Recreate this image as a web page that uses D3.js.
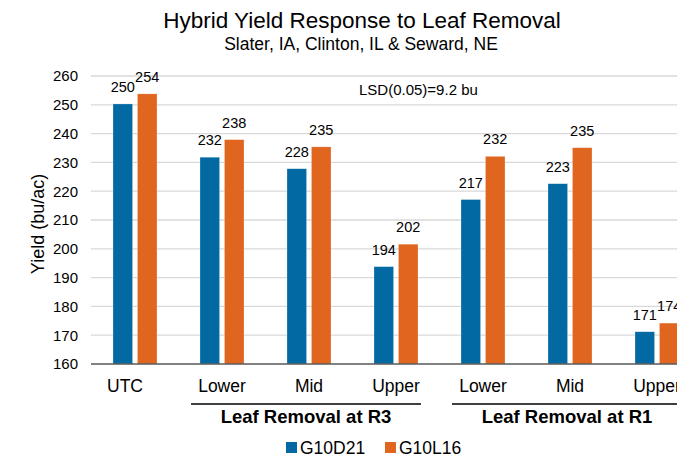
<!DOCTYPE html>
<html>
<head>
<meta charset="utf-8">
<script src="https://cdn.jsdelivr.net/npm/d3@7"></script>
<style>
  body { margin: 0; background: #fff; }
  svg { display: block; font-family: Arial, "Liberation Sans", sans-serif; }
</style>
</head>
<body>
<script>
let categories = ['UTC', 'Lower', 'Mid', 'Upper', 'Lower', 'Mid', 'Upper']
let seriesNames = ['G10D21', 'G10L16']
let g10d21 = [250.3, 231.8, 227.8, 193.8, 217.1, 222.6, 171.2]
let g10l16 = [253.8, 237.9, 235.4, 201.6, 232.1, 235.1, 174.2]
let yTicks = [160, 170, 180, 190, 200, 210, 220, 230, 240, 250, 260]
let groups = [
  { label: 'Leaf Removal at R3', from: 1, to: 3 },
  { label: 'Leaf Removal at R1', from: 4, to: 6 }
]
let colors = ['#0369a3', '#e0651f']

let width = 677
let height = 459

let svg = d3.select('body').append('svg')
  .attr('width', width)
  .attr('height', height)

let x0 = d3.scaleBand()
  .domain(d3.range(categories.length))
  .range([91.5, 700.5])

let x1 = d3.scaleBand()
  .domain(seriesNames)
  .range([21.5, 65.5])
  .paddingInner(0.2)

let y = d3.scaleLinear()
  .domain([160, 260])
  .range([364, 76])

// gridlines + tick labels
svg.append('g')
  .selectAll('line')
  .data(yTicks.slice(1))
  .enter()
  .append('line')
  .attr('x1', 91)
  .attr('x2', width)
  .attr('y1', d => y(d))
  .attr('y2', d => y(d))
  .attr('stroke', '#d9d9d9')
  .attr('stroke-width', 1.3)

svg.append('g')
  .selectAll('text')
  .data(yTicks)
  .enter()
  .append('text')
  .attr('x', 78)
  .attr('y', d => y(d))
  .attr('dy', '0.36em')
  .attr('text-anchor', 'end')
  .attr('font-size', '15px')
  .attr('fill', '#000')
  .text(d => d)

// bars
let data = categories.map((c, i) => ({ i: i, vals: [g10d21[i], g10l16[i]] }))

let cat = svg.append('g')
  .selectAll('g')
  .data(data)
  .enter()
  .append('g')
  .attr('transform', d => `translate(${x0(d.i)},0)`)

cat.selectAll('rect')
  .data(d => d.vals.map((v, k) => ({ name: seriesNames[k], v: v, k: k })))
  .enter()
  .append('rect')
  .attr('x', d => x1(d.name))
  .attr('width', x1.bandwidth())
  .attr('y', d => y(d.v))
  .attr('height', d => y(160) - y(d.v))
  .attr('fill', d => colors[d.k])
  .attr('stroke', '#fff')
  .attr('stroke-opacity', 0.4)
  .attr('stroke-width', 0.6)

cat.selectAll('text')
  .data(d => d.vals.map((v, k) => ({ name: seriesNames[k], v: v })))
  .enter()
  .append('text')
  .attr('x', d => x1(d.name) + x1.bandwidth() / 2)
  .attr('y', d => y(d.v) - 12)
  .attr('text-anchor', 'middle')
  .attr('font-size', '14.5px')
  .attr('fill', '#000')
  .text(d => Math.round(d.v))

// axis line
svg.append('line')
  .attr('x1', 91)
  .attr('x2', width)
  .attr('y1', y(160))
  .attr('y2', y(160))
  .attr('stroke', '#595959')
  .attr('stroke-width', 1.5)

// category labels
svg.append('g')
  .selectAll('text')
  .data(categories)
  .enter()
  .append('text')
  .attr('x', (d, i) => x0(i) + x0.bandwidth() / 2 - (i === 0 ? 10 : 0))
  .attr('y', 392)
  .attr('text-anchor', 'middle')
  .attr('font-size', '17.5px')
  .attr('fill', '#000')
  .text(d => d)

// group brackets
let grp = svg.append('g')
  .selectAll('g')
  .data(groups)
  .enter()
  .append('g')

let groupMid = d => (x0(d.from) + x0(d.to) + x0.bandwidth()) / 2 - 3

grp.append('line')
  .attr('x1', d => groupMid(d) - 115)
  .attr('x2', d => groupMid(d) + 115)
  .attr('y1', 404)
  .attr('y2', 404)
  .attr('stroke', '#000')
  .attr('stroke-width', 1.3)

grp.append('text')
  .attr('x', d => groupMid(d))
  .attr('y', 423)
  .attr('text-anchor', 'middle')
  .attr('font-size', '18.5px')
  .attr('font-weight', 'bold')
  .attr('fill', '#000')
  .text(d => d.label)

// y title
svg.append('text')
  .attr('transform', 'translate(44,224) rotate(-90)')
  .attr('text-anchor', 'middle')
  .attr('font-size', '18px')
  .attr('fill', '#000')
  .text('Yield (bu/ac)')

// titles
svg.append('text')
  .attr('x', 362)
  .attr('y', 28)
  .attr('text-anchor', 'middle')
  .attr('font-size', '22.5px')
  .attr('fill', '#000')
  .text('Hybrid Yield Response to Leaf Removal')

svg.append('text')
  .attr('x', 361)
  .attr('y', 50)
  .attr('text-anchor', 'middle')
  .attr('font-size', '17.5px')
  .attr('fill', '#000')
  .text('Slater, IA, Clinton, IL & Seward, NE')

svg.append('text')
  .attr('x', 359)
  .attr('y', 95)
  .attr('font-size', '15px')
  .attr('fill', '#000')
  .text('LSD(0.05)=9.2 bu')

// legend
let legendX = [286, 385]
let legend = svg.append('g')
  .selectAll('g')
  .data(seriesNames)
  .enter()
  .append('g')
  .attr('transform', (d, i) => `translate(${legendX[i]},442)`)

legend.append('rect')
  .attr('width', 11)
  .attr('height', 11)
  .attr('fill', (d, i) => colors[i])

legend.append('text')
  .attr('x', 14)
  .attr('y', 12)
  .attr('font-size', '17.5px')
  .attr('fill', '#000')
  .text(d => d)
</script>
</body>
</html>
